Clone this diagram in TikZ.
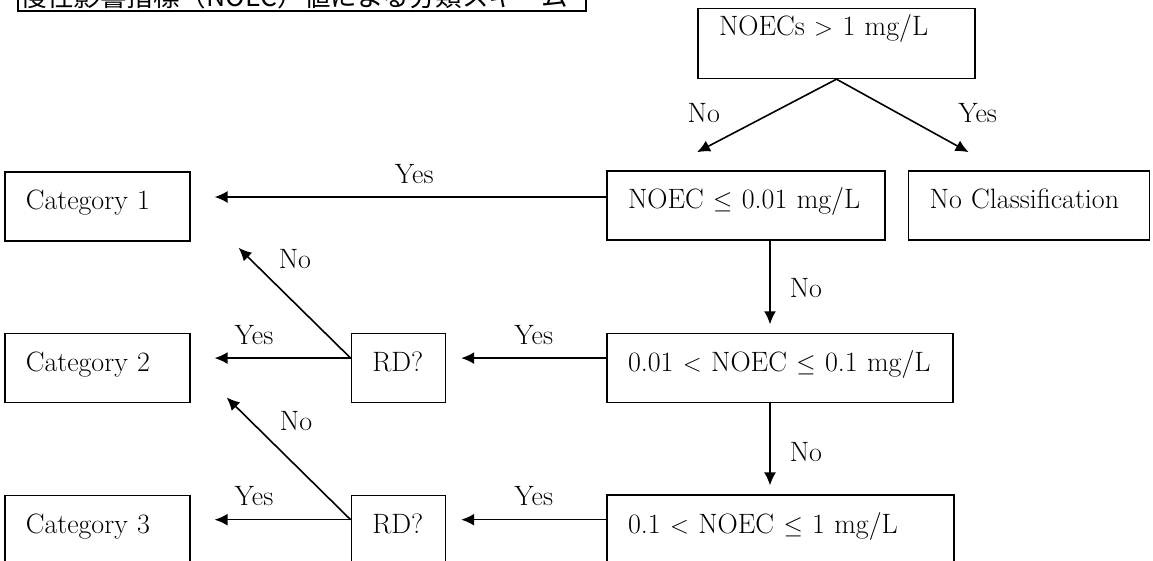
\documentclass[tikz,border=0pt]{standalone}
\usepackage{fontspec}
\newfontfamily\jpfont{Noto Sans CJK JP}
\usetikzlibrary{arrows.meta,positioning,calc}
\newcommand{\boxfont}{\fontsize{28}{33}\selectfont}

\begin{document}
\begin{tikzpicture}[x=1pt, y=1pt]

\tikzset{every edge/.append style = {line width=1.6pt, >={Latex[length=13pt,width=12pt]}}}
\tikzset{tbox/.style = {draw, rectangle, line width=1.6pt, minimum height=69pt, inner xsep=21pt, inner ysep=0pt, text height=19pt, text depth=13pt, align=left, font=\boxfont}}
\tikzset{lbl/.style = {font=\boxfont, inner sep=0pt, text height=19pt, text depth=5pt}}
\tikzset{titlebox/.style = {draw, line width=1.6pt, inner xsep=3pt, inner ysep=2pt, text depth=3pt, align=left, font=\jpfont\fontsize{26.5}{31}\selectfont}}

\useasboundingbox (0,0) rectangle (1153,561);
\clip (0,0) rectangle (1153,561);

\node[titlebox, text width=562pt, anchor=south west] (title) at (17,549) {慢性影響指標（NOEC）値による分類スキーム};

\node[tbox, text width=236pt]                 (noec001) at (746,355.5)                                           {NOEC $\leq$ 0.01 mg/L};
\node[tbox, text width=235pt, minimum height=70pt, text depth=34pt]
                                              (noecs)   [above=91pt of noec001.north west, anchor=south west, xshift=91pt] {NOECs $>$ 1 mg/L};
\node[tbox, text width=199pt]                 (nocls)   [right=22pt of noec001]                              {No Classification};
\node[tbox, text width=304pt]                 (noec01)  [below=92pt of noec001.south west, anchor=north west] {0.01 $<$ NOEC $\leq$ 0.1 mg/L};
\node[tbox, text width=305pt, minimum height=70pt]
                                              (noec1)   [below=91pt of noec01.south west, anchor=north west]  {0.1 $<$ NOEC $\leq$ 1 mg/L};
\node[tbox, text width=52pt]                  (rd1)     [left=160pt of noec01]                               {RD?};
\node[tbox, text width=52pt]                  (rd2)     [left=160pt of noec1]                                {RD?};
\node[tbox, text width=143pt]                 (cat2)    [left=160pt of rd1]                                  {Category 2};
\node[tbox, text width=143pt]                 (cat3)    [left=160pt of rd2]                                  {Category 3};
\node[tbox, text width=143pt]                 (cat1)    [above=91pt of cat2]                                 {Category 1};

% first split
\draw (noecs.south)                  edge[->] node[lbl, midway, left=46pt]       {No}  ($(noec001.north)+(-49,18)$);
\draw (noecs.south)                  edge[->] node[lbl, midway, right=55pt]      {Yes} ($(nocls.north)+(-60.5,18)$);

% down the right column
\draw ($(noec001.south)+(24,0)$)     edge[->] node[lbl, pos=0.6, right=19pt]     {No}  ($(noec01.north)+(-10,8.5)$);
\draw ($(noec01.south)+(-10,0)$)     edge[->] node[lbl, pos=0.62, right=19pt]    {No}  ($(noec1.north)+(-10.5,9)$);

% yes branches to the left
\draw ($(noec001.west)+(0,8.5)$)     edge[->] node[lbl, pos=0.49, above=8pt]     {Yes} ($(cat1.east)+(24,9.5)$);
\draw ($(noec01.west)+(0,10)$)       edge[->] node[lbl, midway, above=8pt]       {Yes} ($(rd1.east)+(15,10)$);
\draw ($(noec1.west)+(0,10.5)$)      edge[->] node[lbl, midway, above=8pt]       {Yes} ($(rd2.east)+(15,10.5)$);
\draw ($(rd1.west)+(0,10)$)          edge[->] node[lbl, pos=0.71, above=8pt]     {Yes} ($(cat2.east)+(24,10)$);
\draw ($(rd2.west)+(0,10.5)$)        edge[->] node[lbl, pos=0.71, above=8pt]     {Yes} ($(cat3.east)+(24,10.5)$);

% RD? answered no
\draw ($(rd1.west)+(0,10)$)          edge[->] node[lbl, pos=0.88, right=26pt]    {No}  ($(cat1.south east)+(48,-6)$);
\draw ($(rd2.west)+(0,10.5)$)        edge[->] node[lbl, pos=0.79, right=26.5pt]  {No}  ($(cat2.south east)+(36,6)$);

\end{tikzpicture}
\end{document}
